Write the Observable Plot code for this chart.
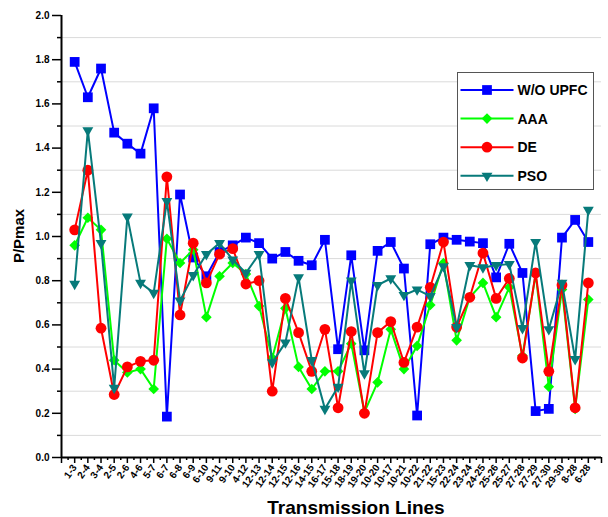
<!DOCTYPE html>
<html><head><meta charset="utf-8">
<script src="https://cdn.jsdelivr.net/npm/d3@7"></script>
<script src="https://cdn.jsdelivr.net/npm/@observablehq/plot@0.6"></script>
<style>
html,body{margin:0;padding:0;background:#fff;}
#wrap{position:relative;width:608px;height:517px;}
</style></head><body><div id="wrap"></div>
<script>
const lines = ["1-3","2-4","3-4","2-5","2-6","4-6","5-7","6-7","6-8","6-9","6-10","9-11","9-10","4-12","12-13","12-14","12-15","12-16","14-15","16-17","15-18","18-19","19-20","10-20","10-17","10-21","10-22","21-22","15-23","22-24","23-24","24-25","25-26","25-27","27-28","27-29","27-30","29-30","8-28","6-28"];
const woUpfc = [1.79,1.63,1.76,1.47,1.42,1.375,1.58,0.185,1.19,0.905,0.82,0.93,0.96,0.995,0.97,0.90,0.93,0.89,0.87,0.985,0.49,0.915,0.485,0.935,0.975,0.855,0.19,0.965,0.995,0.985,0.977,0.97,0.815,0.967,0.835,0.21,0.22,0.995,1.075,0.975];
const aaa = [0.96,1.085,1.03,0.44,0.385,0.40,0.31,0.99,0.88,0.94,0.635,0.82,0.88,0.83,0.685,0.45,0.675,0.41,0.31,0.39,0.39,0.515,0.205,0.34,0.58,0.40,0.505,0.69,0.88,0.53,0.725,0.79,0.635,0.77,0.46,0.83,0.32,0.76,0.22,0.715];
const de = [1.03,1.30,0.585,0.285,0.41,0.435,0.44,1.27,0.645,0.97,0.79,0.92,0.945,0.785,0.80,0.30,0.72,0.565,0.39,0.58,0.225,0.57,0.20,0.565,0.615,0.43,0.59,0.77,0.975,0.59,0.725,0.925,0.72,0.81,0.45,0.835,0.39,0.78,0.225,0.79];
const pso = [0.785,1.48,0.97,0.315,1.09,0.79,0.745,1.16,0.71,0.825,0.92,0.97,0.895,0.835,0.92,0.43,0.52,0.815,0.44,0.22,0.32,0.80,0.38,0.78,0.81,0.735,0.76,0.73,0.865,0.59,0.87,0.86,0.87,0.875,0.585,0.975,0.58,0.79,0.445,1.12];
const seriesNames = ["W/O UPFC","AAA","DE","PSO"];
const seriesValues = [woUpfc, aaa, de, pso];
const colors = ["#0000ff","#00ff00","#ff0000","#077a7a"];
const symbols = ["square","diamond2","circle","triangle2"];
const symbolR = [5.5,4.8,5.4,5.2];
const symbolRotate = [0,0,0,180];
const yMajor = [0,0.2,0.4,0.6,0.8,1.0,1.2,1.4,1.6,1.8,2.0];
const yMinor = [0.1,0.3,0.5,0.7,0.9,1.1,1.3,1.5,1.7,1.9];
const yTitle = "P/Pmax";
const xTitle = "Transmission Lines";

const font = "'Liberation Sans', Arial, sans-serif";

const marks = [];
marks.push(Plot.ruleY(yMinor, {stroke: "#dadada", strokeWidth: 1}));
seriesValues.forEach((vals, s) => {
  const data = vals.map((v, i) => ({i: i + 1, v}));
  marks.push(Plot.line(data, {x: "i", y: "v", stroke: colors[s], strokeWidth: 2}));
  marks.push(Plot.dot(data, {x: "i", y: "v", symbol: symbols[s], r: symbolR[s], fill: colors[s], stroke: "none", rotate: symbolRotate[s]}));
});
marks.push(Plot.axisY(yMajor, {tickSize: 9, tickPadding: 3, tickFormat: d => d.toFixed(1), fontSize: 10, fontWeight: "bold", strokeWidth: 1.5, label: null}));
marks.push(Plot.axisY(yMinor, {tickSize: 4, tickFormat: () => "", strokeWidth: 1.5, label: null}));
marks.push(Plot.axisX(d3.range(0, 42), {tickSize: 6, tickPadding: 2, tickRotate: -55, tickFormat: i => lines[i - 1] ?? "", fontSize: 10, fontWeight: "bold", strokeWidth: 1.5, label: null}));
marks.push(Plot.axisX(d3.range(0.5, 41, 1), {tickSize: 3, tickFormat: () => "", strokeWidth: 1.5, label: null}));
marks.push(Plot.ruleX([0], {stroke: "#000", strokeWidth: 2}));
marks.push(Plot.ruleY([0], {stroke: "#000", strokeWidth: 2}));

const chart = Plot.plot({
  width: 608, height: 517,
  marginTop: 15, marginBottom: 60, marginLeft: 61, marginRight: 7,
  x: {type: "linear", domain: [0, 41]},
  y: {domain: [0, 2]},
  style: {fontFamily: font, background: "#fff", color: "#000"},
  marks
});
document.getElementById("wrap").appendChild(chart);

const svg = d3.select(chart);
svg.append("text").text(yTitle)
  .attr("transform", "translate(24,236) rotate(-90)")
  .attr("text-anchor", "middle")
  .style("font-family", font).style("font-weight", "bold").style("font-size", "15px").attr("fill", "#000");
svg.append("text").text(xTitle)
  .attr("x", 356).attr("y", 514)
  .attr("text-anchor", "middle")
  .style("font-family", font).style("font-weight", "bold").style("font-size", "19px").attr("fill", "#000");

// legend
const lg = svg.append("g").attr("transform", "translate(457.5,72.5)");
lg.append("rect").attr("width", 136).attr("height", 117).attr("fill", "#fff").attr("stroke", "#555").attr("stroke-width", 1);
const d3sym = {square: d3.symbolSquare, diamond2: d3.symbolDiamond2, circle: d3.symbolCircle, triangle2: d3.symbolTriangle2};
seriesNames.forEach((name, s) => {
  const yy = 17.5 + s * 28.6;
  lg.append("line").attr("x1", 3).attr("x2", 56).attr("y1", yy).attr("y2", yy).attr("stroke", colors[s]).attr("stroke-width", 2);
  lg.append("path").attr("d", d3.symbol(d3sym[symbols[s]], Math.PI * symbolR[s] * symbolR[s])())
    .attr("transform", `translate(29.5,${yy}) rotate(${symbolRotate[s]})`).attr("fill", colors[s]);
  lg.append("text").text(name).attr("x", 60).attr("y", yy + 5)
    .attr("text-anchor", "start")
    .style("font-family", font).style("font-weight", "bold").style("font-size", "14px").attr("fill", "#000");
});
</script></body></html>
